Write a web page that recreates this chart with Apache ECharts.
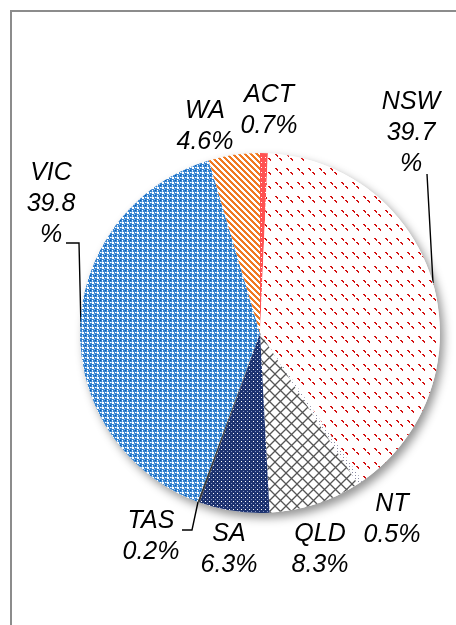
<!DOCTYPE html>
<html><head><meta charset="utf-8">
<script src="https://cdn.jsdelivr.net/npm/echarts@6/dist/echarts.min.js"></script>
<style>html,body{margin:0;padding:0;background:#fff;} #c{width:456px;height:625px;}</style>
</head><body><div id="c"></div>
<script>
// ---- data ----
const categories = ['ACT', 'NSW', 'NT', 'QLD', 'SA', 'TAS', 'VIC', 'WA'];
const shares = [0.7, 39.7, 0.5, 8.3, 6.3, 0.2, 39.8, 4.6];
const wrappedNames = ['NSW', 'VIC'];
const leaderNames = ['NSW', 'VIC', 'TAS'];

// ---- pattern fills ----
function tile(w, h, bg, draw) {
  const c = document.createElement('canvas');
  c.width = w; c.height = h;
  const g = c.getContext('2d');
  if (bg) { g.fillStyle = bg; g.fillRect(0, 0, w, h); }
  draw(g, w, h);
  return { image: c, repeat: 'repeat' };
}
function px(g, color, pts) {
  g.fillStyle = color;
  pts.forEach(p => g.fillRect(p[0], p[1], p[2] || 1, p[3] || 1));
}
const fills = {
  ACT: tile(4, 5, '#ff5252', g => px(g, '#ffffff', [[1, 2]])),
  NSW: tile(11, 14, '#ffffff', g => {
    px(g, '#d41010', [[0, 0, 2, 1], [1, 1, 2, 1], [2, 2, 1, 1], [4, 4, 2, 1], [5, 5, 2, 1], [6, 6, 1, 1]]);
  }),
  NT: tile(3, 3, '#ffffff', g => px(g, '#8a8aa2', [[1, 1, 1, 1]])),
  QLD: tile(11, 11, '#ffffff', g => {
    g.strokeStyle = '#555555'; g.lineWidth = 1.3; g.beginPath();
    g.moveTo(-1, -1); g.lineTo(12, 12); g.moveTo(12, -1); g.lineTo(-1, 12); g.stroke();
  }),
  SA: tile(4, 4, '#1d3370', g => { px(g, '#ffffff', [[1, 1]]); px(g, '#8595c5', [[3, 3]]); }),
  TAS: '#3a3a3a',
  VIC: tile(5, 5, '#3584d2', g => {
    px(g, '#ffffff', [[2, 2, 2, 2], [0, 2, 1, 1], [2, 0, 1, 1]]);
    px(g, '#0a58a8', [[0, 0]]);
    px(g, '#a9cbee', [[4, 4], [1, 2], [2, 1]]);
  }),
  WA: tile(6, 6, '#ffffff', (g, w, h) => {
    for (let y = 0; y < h; y++) for (let x = 0; x < w; x++) {
      const k = ((x - y) % 6 + 6) % 6;
      if (k < 3) px(g, '#f07a22', [[x, y]]);
    }
  })
};

// ---- layout (label anchors, leader lines) ----
const labelPos = {
  ACT: [269, 111], NSW: [411, 133], NT: [392, 520], QLD: [320, 550],
  SA: [229, 550], TAS: [151, 537], VIC: [51, 204], WA: [205, 127]
};
const leaderPts = {
  NSW: [[433, 283], [430, 228], [427, 174]],
  VIC: [[81, 328], [79, 243], [66, 243]],
  TAS: [[198, 502], [192, 530], [182, 530]]
};

const total = shares.reduce((a, b) => a + b, 0);
const pieData = categories.map((name, i) => ({
  name: name,
  value: shares[i],
  itemStyle: { color: fills[name] },
  labelLine: { show: leaderNames.indexOf(name) >= 0 }
}));

const chart = echarts.init(document.getElementById('c'), null, { renderer: 'canvas' });
chart.setOption({
  animation: false,
  backgroundColor: '#ffffff',
  graphic: [{
    type: 'rect', silent: true,
    shape: { x: 11, y: 11, width: 600, height: 800 },
    style: { fill: 'none', stroke: '#8c8c8c', lineWidth: 2 }
  }],
  series: [
    {
      type: 'pie', silent: true, z: 1,
      center: [260, 333], radius: 180,
      data: [{ value: total, name: 'all' }],
      label: { show: false }, labelLine: { show: false },
      itemStyle: {
        color: '#ffffff', shadowBlur: 10, shadowOffsetX: 4, shadowOffsetY: 5,
        shadowColor: 'rgba(0,0,0,0.42)'
      },
      emphasis: { disabled: true }
    },
    {
      type: 'pie', silent: true, z: 2,
      center: [260, 333], radius: 180,
      startAngle: 90, clockwise: true,
      avoidLabelOverlap: false,
      data: pieData,
      itemStyle: { borderWidth: 0 },
      emphasis: { disabled: true },
      label: {
        show: true,
        position: 'outside',
        fontFamily: '"Liberation Sans", Arial, sans-serif',
        fontStyle: 'italic',
        fontSize: 25,
        lineHeight: 31,
        color: '#000000',
        align: 'center',
        formatter: p => wrappedNames.indexOf(p.name) >= 0
          ? p.name + '\n' + p.value + '\n%'
          : p.name + '\n' + p.value + '%'
      },
      labelLine: { show: false, lineStyle: { color: '#000000', width: 1.4 }, smooth: false },
      labelLayout: function (params) {
        const name = categories[params.dataIndex];
        const pos = labelPos[name];
        const out = { x: pos[0], y: pos[1], align: 'center', verticalAlign: 'middle' };
        if (leaderPts[name]) out.labelLinePoints = leaderPts[name];
        return out;
      }
    }
  ]
});
</script>
</body></html>
